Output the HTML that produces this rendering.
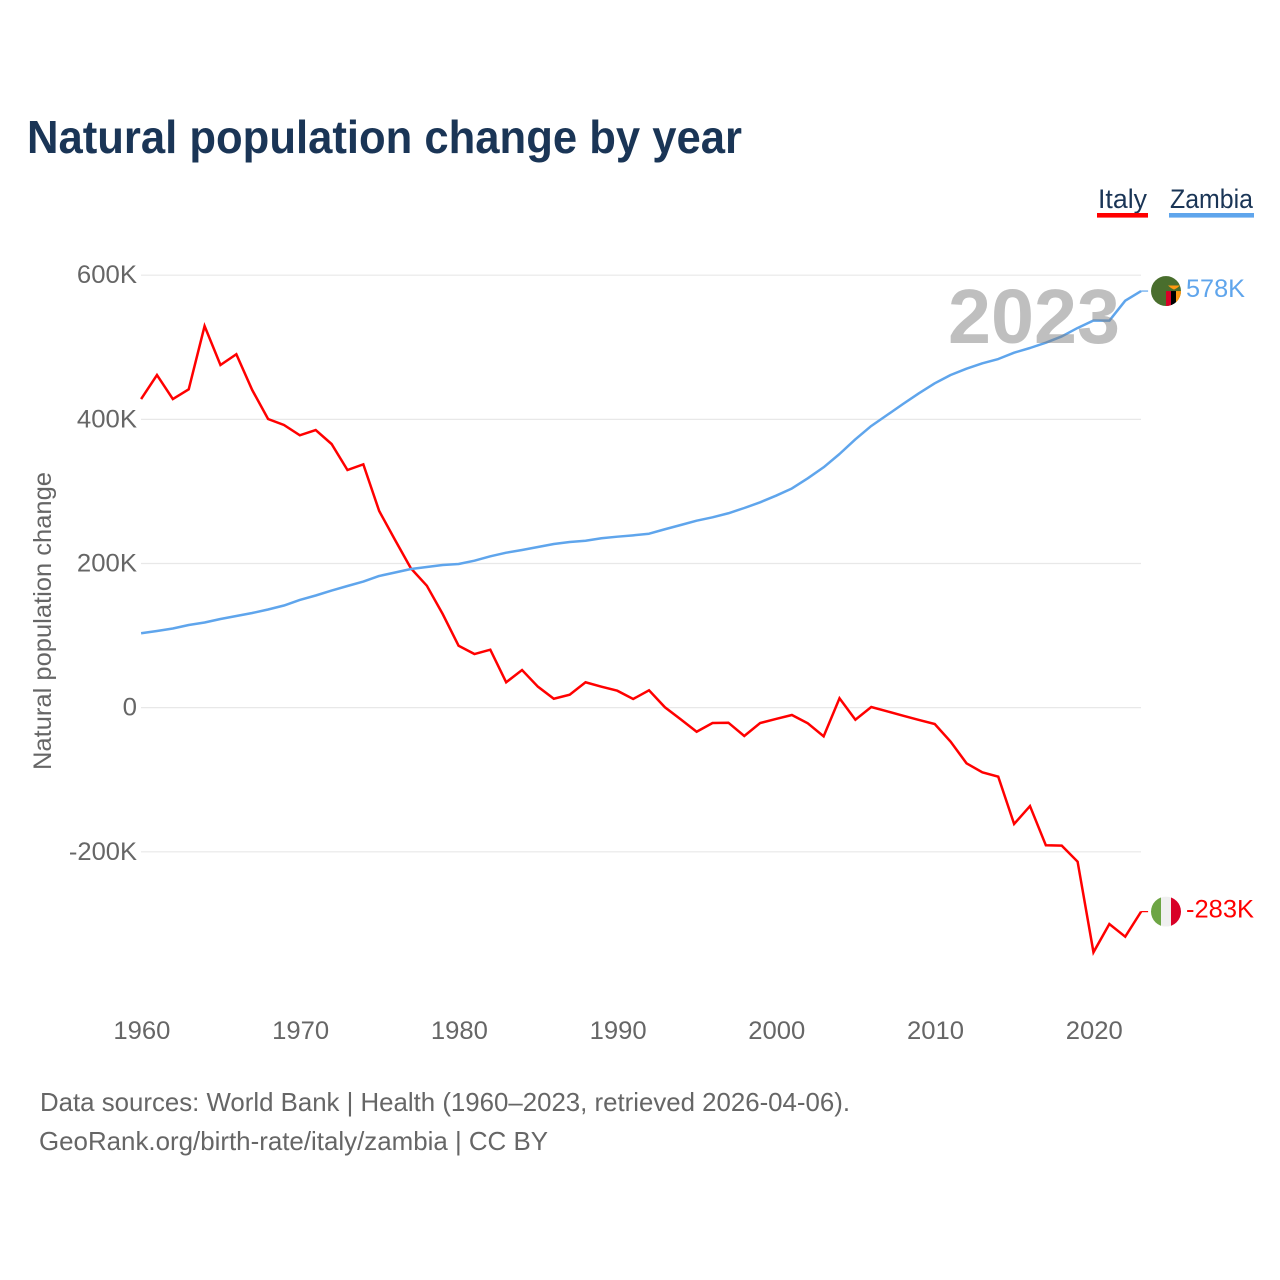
<!DOCTYPE html>
<html lang="en">
<head>
<meta charset="utf-8">
<title>Natural population change by year</title>
<style>
html,body{margin:0;padding:0;background:#fff;}
svg{display:block;font-family:"Liberation Sans",sans-serif;}
</style>
</head>
<body>
<svg id="chart" xmlns="http://www.w3.org/2000/svg" width="1280" height="1280" viewBox="0 0 1280 1280">
  <rect x="0" y="0" width="1280" height="1280" fill="#fff"/>
  <text x="27" y="153" font-size="46" font-weight="700" fill="#1a3556" textLength="715" lengthAdjust="spacingAndGlyphs">Natural population change by year</text>

  <g>
    <g>
      <text x="1098" y="208" font-size="27" fill="#1a3556" textLength="49" lengthAdjust="spacingAndGlyphs">Italy</text>
      <rect x="1097" y="213" width="51" height="4.6" fill="#ff0000"/>
    </g>
    <g>
      <text x="1170" y="208" font-size="27" fill="#1a3556" textLength="83" lengthAdjust="spacingAndGlyphs">Zambia</text>
      <rect x="1169" y="213" width="85" height="4.6" fill="#5fa5ec"/>
    </g>
  </g>

  <g id="grid"></g>
  <g id="yTicks"></g>
  <g id="xTicks"></g>
  <text transform="translate(51,621) rotate(-90)" text-anchor="middle" font-size="25" fill="#666" textLength="298" lengthAdjust="spacingAndGlyphs">Natural population change</text>

  <g id="series"></g>

  <text x="948" y="343" font-size="77" font-weight="700" fill="#808080" fill-opacity="0.5" textLength="172" lengthAdjust="spacingAndGlyphs">2023</text>

  <defs>
    <clipPath id="clipZambia"><circle cx="1166" cy="291" r="15"/></clipPath>
    <clipPath id="clipItaly"><circle cx="1166" cy="911" r="15"/></clipPath>
  </defs>
  <g id="flagZambiaWrap">
    <g clip-path="url(#clipZambia)">
      <rect x="1151" y="276" width="30" height="30" fill="#496e2d"/>
      <rect x="1166" y="291" width="5" height="15" fill="#d80027"/>
      <rect x="1171" y="291" width="5" height="15" fill="#000"/>
      <rect x="1176" y="291" width="5" height="15" fill="#ff9811"/>
      <path d="M1168 285.5h12l-3 2.5-3 1.6-3-1.6z" fill="#ff9811"/>
    </g>
  </g>
  <g id="flagItalyWrap">
    <g clip-path="url(#clipItaly)">
      <rect x="1151" y="896" width="10" height="30" fill="#6da544"/>
      <rect x="1161" y="896" width="10" height="30" fill="#f0f0f0"/>
      <rect x="1171" y="896" width="10" height="30" fill="#d80027"/>
    </g>
  </g>

  <g id="endLabels"></g>

  <g>
    <text x="40" y="1111" font-size="26" fill="#666" textLength="810" lengthAdjust="spacingAndGlyphs">Data sources: World Bank | Health (1960–2023, retrieved 2026-04-06).</text>
    <text x="39" y="1150" font-size="26" fill="#666" textLength="509" lengthAdjust="spacingAndGlyphs">GeoRank.org/birth-rate/italy/zambia | CC BY</text>
  </g>
</svg>
<script>
const startYear = 1960;
const xTickYears = [1960, 1970, 1980, 1990, 2000, 2010, 2020];
const yTickValues = [600, 400, 200, 0, -200];
const yTickLabels = ["600K", "400K", "200K", "0", "-200K"];
const italyValues = [428.2,461.5,428.2,441.7,529.5,475.4,490.3,440.7,400.5,392.2,377.9,385.2,365.8,329.7,337.6,272.8,232.6,193.3,169.2,129.9,86,74.4,80.4,35.2,52.2,29.1,12.4,18,35.2,29.1,23.5,12,24.1,0.5,-16.2,-33.4,-21.3,-20.9,-39.3,-21.3,-15.7,-10.2,-21.7,-39.8,13,-16.7,0.9,-5.1,-11.2,-17.1,-22.7,-47.2,-77.2,-89.7,-95.8,-161.4,-136.5,-191,-191.5,-213.7,-339.4,-300.2,-317.8,-283];
const zambiaValues = [103.2,106.3,109.8,114.7,118.1,123,127.2,131.3,136.2,141.7,149.4,155.6,162.5,168.8,175,182.7,187.5,192.4,195.1,197.9,199.3,203.9,210,215,218.7,222.9,227.1,229.8,231.6,235,237.2,239.1,241.3,247.5,253.4,259.4,264.1,269.7,277,284.9,294.1,304.1,318.2,333.5,351.9,372.3,390.8,406,421.3,436.1,450,461.5,470.3,477.8,483.7,492.5,499,506.4,515,526.8,537.2,536.9,564.6,578];
const italyEndLabel = "-283K";
const zambiaEndLabel = "578K";

const NS = "http://www.w3.org/2000/svg";
function xScale(year) { return 141.1 + (year - 1960) * 15.873; }
function yScale(v) { return 707.65 - v * 0.72075; }
function labelWidth(s) {
  let w = 0;
  for (const c of s) { w += c === "K" ? 17 : c === "-" ? 8 : 14.35; }
  return w;
}
function make(tag, attrs, text) {
  const el = document.createElementNS(NS, tag);
  for (const k in attrs) el.setAttribute(k, attrs[k]);
  if (text !== undefined) el.textContent = text;
  return el;
}

const grid = document.getElementById("grid");
const yTicks = document.getElementById("yTicks");
yTickValues.forEach(function (v, i) {
  const y = yScale(v);
  const line = make("line", { x1: 141, x2: 1141, y1: y, y2: y, stroke: "#e8e8e8", "stroke-width": 1.2 });
  
  
  grid.appendChild(line);
  const w = labelWidth(yTickLabels[i]);
  const t = make("text", { x: 137 - w, y: y + 8, "font-size": 25, fill: "#666", textLength: w, lengthAdjust: "spacingAndGlyphs" }, yTickLabels[i]);
  
  
  yTicks.appendChild(t);
});

const xTicks = document.getElementById("xTicks");
xTickYears.forEach(function (yr) {
  const t = make("text", { x: xScale(yr) - 28.5 + 0.8, y: 1039, "font-size": 25, fill: "#666", textLength: 57, lengthAdjust: "spacingAndGlyphs" }, String(yr));
  
  
  xTicks.appendChild(t);
});

function pathFor(values) {
  return values.map(function (v, i) {
    return (i ? "L" : "M") + xScale(startYear + i).toFixed(2) + " " + yScale(v).toFixed(2);
  }).join("");
}
const series = document.getElementById("series");
const italyLine = make("path", { d: pathFor(italyValues), fill: "none", stroke: "#ff0000", "stroke-width": 2.5, "stroke-linejoin": "miter" });


series.appendChild(italyLine);
const zambiaLine = make("path", { d: pathFor(zambiaValues), fill: "none", stroke: "#5fa5ec", "stroke-width": 2.5, "stroke-linejoin": "round" });


series.appendChild(zambiaLine);

const lastX = xScale(startYear + italyValues.length - 1);
const italyEndY = yScale(italyValues[italyValues.length - 1]);
const zambiaEndY = yScale(zambiaValues[zambiaValues.length - 1]);

const italyStub = make("line", { x1: lastX, x2: lastX + 7, y1: italyEndY, y2: italyEndY, stroke: "#ff0000", "stroke-width": 1.2 });


series.appendChild(italyStub);
const zambiaStub = make("line", { x1: lastX, x2: lastX + 7, y1: zambiaEndY, y2: zambiaEndY, stroke: "#5fa5ec", "stroke-width": 1.2 });


series.appendChild(zambiaStub);

document.getElementById("flagItalyWrap").setAttribute("transform", "translate(0," + (italyEndY - 911) + ")");
document.getElementById("flagZambiaWrap").setAttribute("transform", "translate(0," + (zambiaEndY - 291) + ")");

const endLabels = document.getElementById("endLabels");
const zambiaLabel = make("text", { x: 1186, y: zambiaEndY + 6, "font-size": 25, fill: "#5fa5ec", textLength: 59, lengthAdjust: "spacingAndGlyphs" }, zambiaEndLabel);


endLabels.appendChild(zambiaLabel);
const italyLabel = make("text", { x: 1186, y: italyEndY + 6, "font-size": 25, fill: "#ff0000", textLength: 68, lengthAdjust: "spacingAndGlyphs" }, italyEndLabel);


endLabels.appendChild(italyLabel);
</script>
</body>
</html>
